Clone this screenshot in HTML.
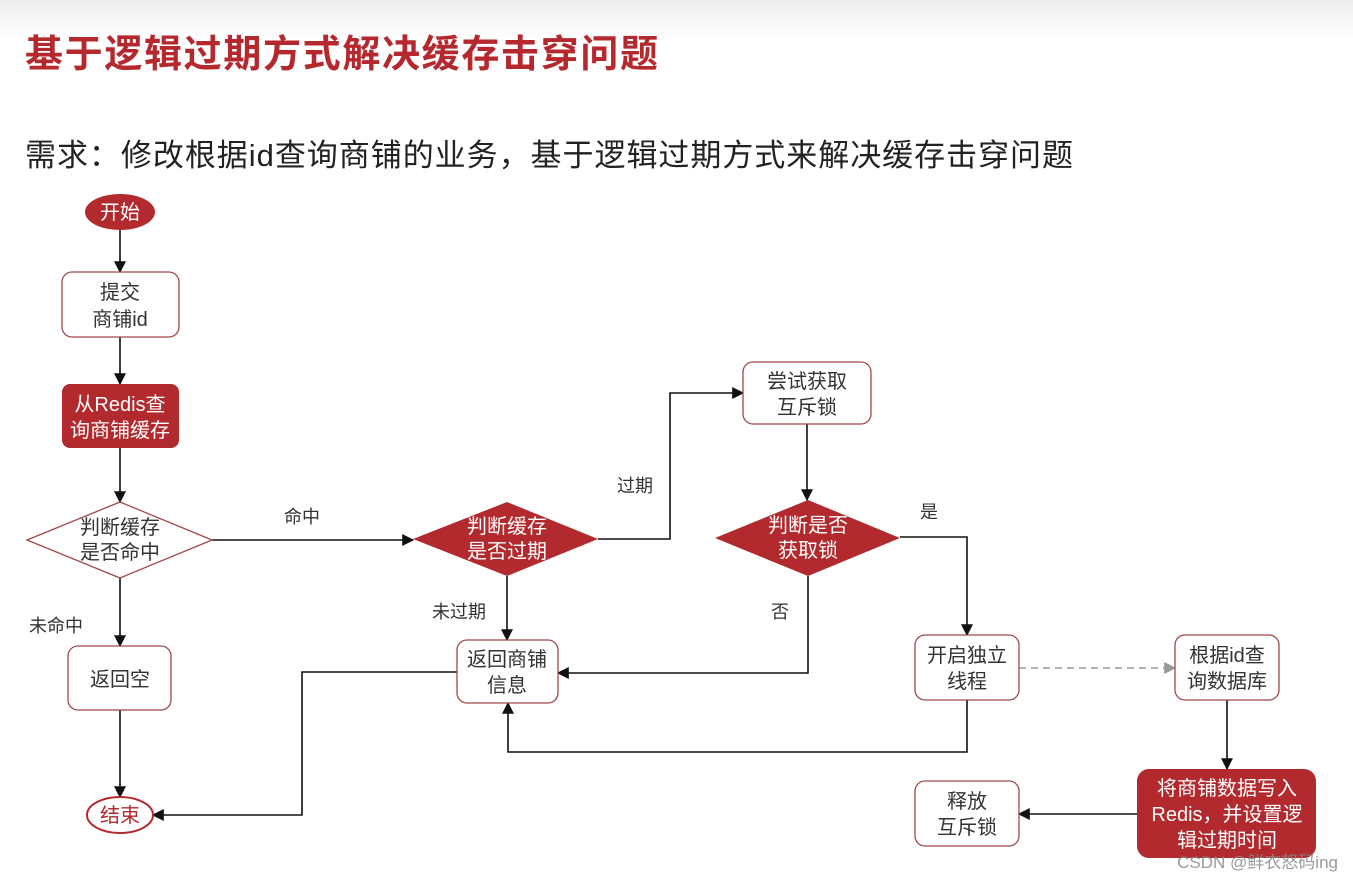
<!DOCTYPE html>
<html><head><meta charset="utf-8"><style>
html,body{margin:0;padding:0;background:#fff;}
svg{display:block;}
text{font-family:"Liberation Sans","Noto Sans CJK SC",sans-serif;}
</style></head><body>
<svg width="1353" height="882" viewBox="0 0 1353 882" xmlns="http://www.w3.org/2000/svg">
<defs>
<marker id="a" viewBox="0 0 10 10" refX="9" refY="5" markerWidth="12" markerHeight="12" markerUnits="userSpaceOnUse" orient="auto"><path d="M0,0 L10,5 L0,10 z" fill="#111"/></marker>
<marker id="g" viewBox="0 0 10 10" refX="9" refY="5" markerWidth="12" markerHeight="12" markerUnits="userSpaceOnUse" orient="auto"><path d="M0,0 L10,5 L0,10 z" fill="#999"/></marker>
<linearGradient id="tg" x1="0" y1="0" x2="0" y2="1"><stop offset="0" stop-color="#ececec"/><stop offset="1" stop-color="#fff"/></linearGradient>
</defs>
<rect x="0" y="0" width="1353" height="40" fill="url(#tg)"/>
<text x="25" y="67" font-size="38" font-weight="bold" fill="#b5282d" textLength="633" lengthAdjust="spacing">基于逻辑过期方式解决缓存击穿问题</text>
<text x="25" y="166" font-size="31" fill="#222" textLength="1048" lengthAdjust="spacing">需求：修改根据id查询商铺的业务，基于逻辑过期方式来解决缓存击穿问题</text>

<g stroke="#111" stroke-width="1.6" fill="none" marker-end="url(#a)">
<path d="M120,230 V272"/>
<path d="M120,337 V384"/>
<path d="M120,448 V502"/>
<path d="M212,540 H413"/>
<path d="M120,578 V646"/>
<path d="M120,710 V797"/>
<path d="M598,539 H670 V393 H743"/>
<path d="M807,424 V500"/>
<path d="M507,576 V640"/>
<path d="M808,576 V673 H558"/>
<path d="M900,537 H967 V635"/>
<path d="M967,700 V752 H508 V703"/>
<path d="M457,672 H302 V815 H153"/>
<path d="M1227,700 V769"/>
<path d="M1137,814 H1019"/>
</g>
<path d="M1019,668 H1175" stroke="#999" stroke-width="1.6" stroke-dasharray="7,5" fill="none" marker-end="url(#g)"/>

<g fill="#fff" stroke="#a0484c" stroke-width="1.3">
<rect x="62" y="272" width="117" height="65" rx="10"/>
<rect x="68" y="646" width="103" height="64" rx="10"/>
<rect x="457" y="640" width="101" height="63" rx="10"/>
<rect x="743" y="362" width="128" height="62" rx="10"/>
<rect x="915" y="635" width="104" height="65" rx="10"/>
<rect x="1175" y="635" width="104" height="65" rx="10"/>
<rect x="915" y="781" width="104" height="65" rx="10"/>
<polygon points="27,540 120,502 212,540 120,578"/>
<ellipse cx="120" cy="815" rx="33" ry="18" stroke="#b22a2e" stroke-width="2"/>
</g>
<g fill="#b22a2e">
<ellipse cx="120" cy="212" rx="35" ry="18"/>
<rect x="62" y="384" width="117" height="64" rx="8"/>
<polygon points="413,539 507,502 598,539 507,576"/>
<polygon points="715,538 808,500 900,538 808,576"/>
<rect x="1137" y="769" width="179" height="89" rx="12"/>
</g>

<g font-size="20" text-anchor="middle" fill="#333">
<text x="120" y="299">提交</text><text x="120" y="326">商铺id</text>
<text x="120" y="686">返回空</text>
<text x="120" y="822" fill="#b22a2e">结束</text>
<text x="507" y="666">返回商铺</text><text x="507" y="692">信息</text>
<text x="807" y="388">尝试获取</text><text x="807" y="414">互斥锁</text>
<text x="967" y="662">开启独立</text><text x="967" y="688">线程</text>
<text x="1227" y="662">根据id查</text><text x="1227" y="688">询数据库</text>
<text x="967" y="808">释放</text><text x="967" y="834">互斥锁</text>
<text x="120" y="534">判断缓存</text><text x="120" y="559">是否命中</text>
</g>
<g font-size="20" text-anchor="middle" fill="#fff">
<text x="120" y="219">开始</text>
<text x="120" y="411">从Redis查</text><text x="120" y="437">询商铺缓存</text>
<text x="507" y="533">判断缓存</text><text x="507" y="558">是否过期</text>
<text x="808" y="532">判断是否</text><text x="808" y="557">获取锁</text>
<text x="1227" y="795">将商铺数据写入</text><text x="1227" y="821">Redis，并设置逻</text><text x="1227" y="847">辑过期时间</text>
</g>
<g font-size="18" fill="#333" text-anchor="middle">
<text x="302" y="523">命中</text>
<text x="56" y="632">未命中</text>
<text x="635" y="492">过期</text>
<text x="459" y="618">未过期</text>
<text x="780" y="618">否</text>
<text x="929" y="518">是</text>
</g>
<text x="1338" y="868" font-size="17" fill="#888" text-anchor="end" opacity="0.85">CSDN @鲜衣怒码ing</text>
</svg>
</body></html>
